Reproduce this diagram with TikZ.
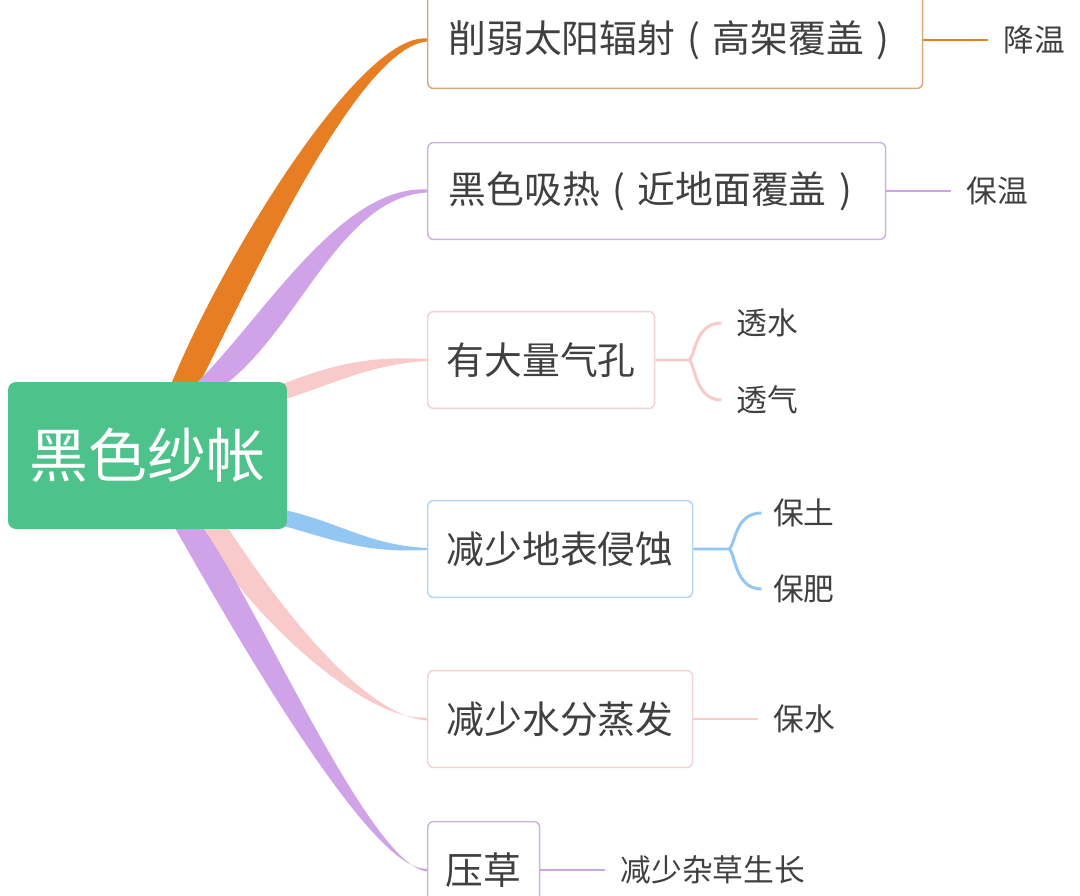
\documentclass[tikz,border=0pt]{standalone}
\usepackage{fontspec}
\setmainfont{Noto Sans CJK SC}
\usetikzlibrary{positioning,calc,backgrounds}
\definecolor{RootGreen}{HTML}{4DC28A}
\definecolor{Txt}{HTML}{404040}
\definecolor{OrangeC}{HTML}{E87E24}
\definecolor{PurpleC}{HTML}{D0A3E8}
\definecolor{PinkC}{HTML}{F8CACA}
\definecolor{BlueC}{HTML}{93C6F2}
\definecolor{EdgeOrange}{HTML}{D9A877}
\definecolor{EdgePurple}{HTML}{CBB5DA}
\definecolor{EdgePink}{HTML}{F0D4D4}
\definecolor{EdgeBlue}{HTML}{B6D5EE}
% full-width brackets, centred in their cell
\newcommand{\lpar}{\makebox[1em][c]{(}}
\newcommand{\rpar}{\makebox[1em][c]{)}}

\begin{document}
\begin{tikzpicture}[
  x=0.02cm, y=-0.02cm,
  node distance=1.3cm,
  root/.style={fill=RootGreen, rounded corners=4.5pt, minimum width=5.58cm, minimum height=2.94cm, text=white, font=\fontsize{33.5}{40}\selectfont},
  topic/.style={draw=#1, line width=0.85pt, fill=white, rounded corners=3.4pt, anchor=west, minimum height=1.94cm, inner xsep=10pt, text=Txt, font=\fontsize{21.5}{26}\selectfont},
  leaf/.style={anchor=west, inner xsep=8.5pt, text=Txt, font=\fontsize{17.5}{21}\selectfont},
  twig/.style={#1, line width=1.7pt}
]
\useasboundingbox (0,0) rectangle (1080,896);

% centre and main topics
\node[root] (root) at (147.5,455.5) {黑色纱帐};
\node[topic=EdgeOrange, minimum width=9.9cm] (b1) at (427,40) {削弱太阳辐射\lpar 高架覆盖\rpar};
\node[topic=EdgePurple, minimum width=9.16cm] (b2) at (427,191) {黑色吸热\lpar 近地面覆盖\rpar};
\node[topic=EdgePink, minimum width=4.54cm] (b3) at (427,360) {有大量气孔};
\node[topic=EdgeBlue, minimum width=5.3cm] (b4) at (427,549) {减少地表侵蚀};
\node[topic=EdgePink, minimum width=5.3cm] (b5) at (427,719) {减少水分蒸发};
\node[topic=EdgePurple, minimum width=2.24cm] (b6) at (427,870) {压草};

% sub topics
\node[leaf, right=of b1] (l1) {降温};
\node[leaf, right=of b2] (l2) {保温};
\node[leaf] (l31) at ($(b3.east)+(66,-37)$) {透水};
\node[leaf] (l32) at ($(b3.east)+(66,40)$) {透气};
\coordinate (j3) at ($(b3.east)+(34,0)$);
\node[leaf, inner xsep=6.5pt] (l41) at ($(b4.east)+(68,-36)$) {保土};
\node[leaf, inner xsep=6.5pt] (l42) at ($(b4.east)+(68,40)$) {保肥};
\coordinate (j4) at ($(b4.east)+(36,0)$);
\node[leaf, right=of b5] (l5) {保水};
\node[leaf, right=of b6] (l6) {减少杂草生长};

\draw[twig=OrangeC] (b1) -- (l1);
\draw[twig=PurpleC] (b2) -- (l2);
\draw[twig=PinkC] (b3.east) -- (j3) .. controls +(6,-6) and +(-26,0) .. (l31.west)
  (j3) .. controls +(6,6) and +(-26,0) .. (l32.west);
\draw[twig=BlueC] (b4.east) -- (j4) .. controls +(6,-6) and +(-26,0) .. (l41.west)
  (j4) .. controls +(6,6) and +(-26,0) .. (l42.west);
\draw[twig=PinkC] (b5) -- (l5);
\draw[twig=PurpleC] (b6) -- (l6);

% tapered limbs
\begin{scope}[on background layer]
\fill[OrangeC] ($(root.north)+(23.5,3)$) .. controls +(50,-124) and +(-67,-6) .. ($(b1.west)+(0,-1.5)$)
  -- ($(b1.west)+(0,1.5)$) .. controls +(-67,6) and +(60,-120) .. ($(root.north)+(51.5,3)$) -- cycle;
\fill[PurpleC] ($(root.north)+(47.5,3)$) .. controls +(66,-64) and +(-87,-5) .. ($(b2.west)+(0,-1.5)$)
  -- ($(b2.west)+(0,1.5)$) .. controls +(-87,5) and +(74,-56) .. ($(root.north)+(77.5,3)$) -- cycle;
\fill[PinkC] ($(root.east)+(-7,-70.5)$) .. controls +(55,-22) and +(-55,-3) .. ($(b3.west)+(0,-1)$)
  -- ($(b3.west)+(0,1)$) .. controls +(-55,3) and +(55,-18) .. ($(root.east)+(-7,-54.5)$) -- cycle;
\fill[BlueC] ($(root.east)+(-7,53.5)$) .. controls +(60,13) and +(-60,-3) .. ($(b4.west)+(0,-1)$)
  -- ($(b4.west)+(0,1)$) .. controls +(-60,3) and +(60,17) .. ($(root.east)+(-7,69.5)$) -- cycle;
\fill[PinkC] ($(root.south)+(79.5,-3)$) .. controls +(44,68) and +(-67,-5) .. ($(b5.west)+(0,1.5)$)
  -- ($(b5.west)+(0,-1.5)$) .. controls +(-67,5) and +(36,74) .. ($(root.south)+(51.5,-3)$) -- cycle;
\fill[PurpleC] ($(root.south)+(54.5,-3)$) .. controls +(56,78) and +(-57,-6) .. ($(b6.west)+(0,1.5)$)
  -- ($(b6.west)+(0,-1.5)$) .. controls +(-57,6) and +(48,84) .. ($(root.south)+(26.5,-3)$) -- cycle;
\end{scope}
\end{tikzpicture}
\end{document}
